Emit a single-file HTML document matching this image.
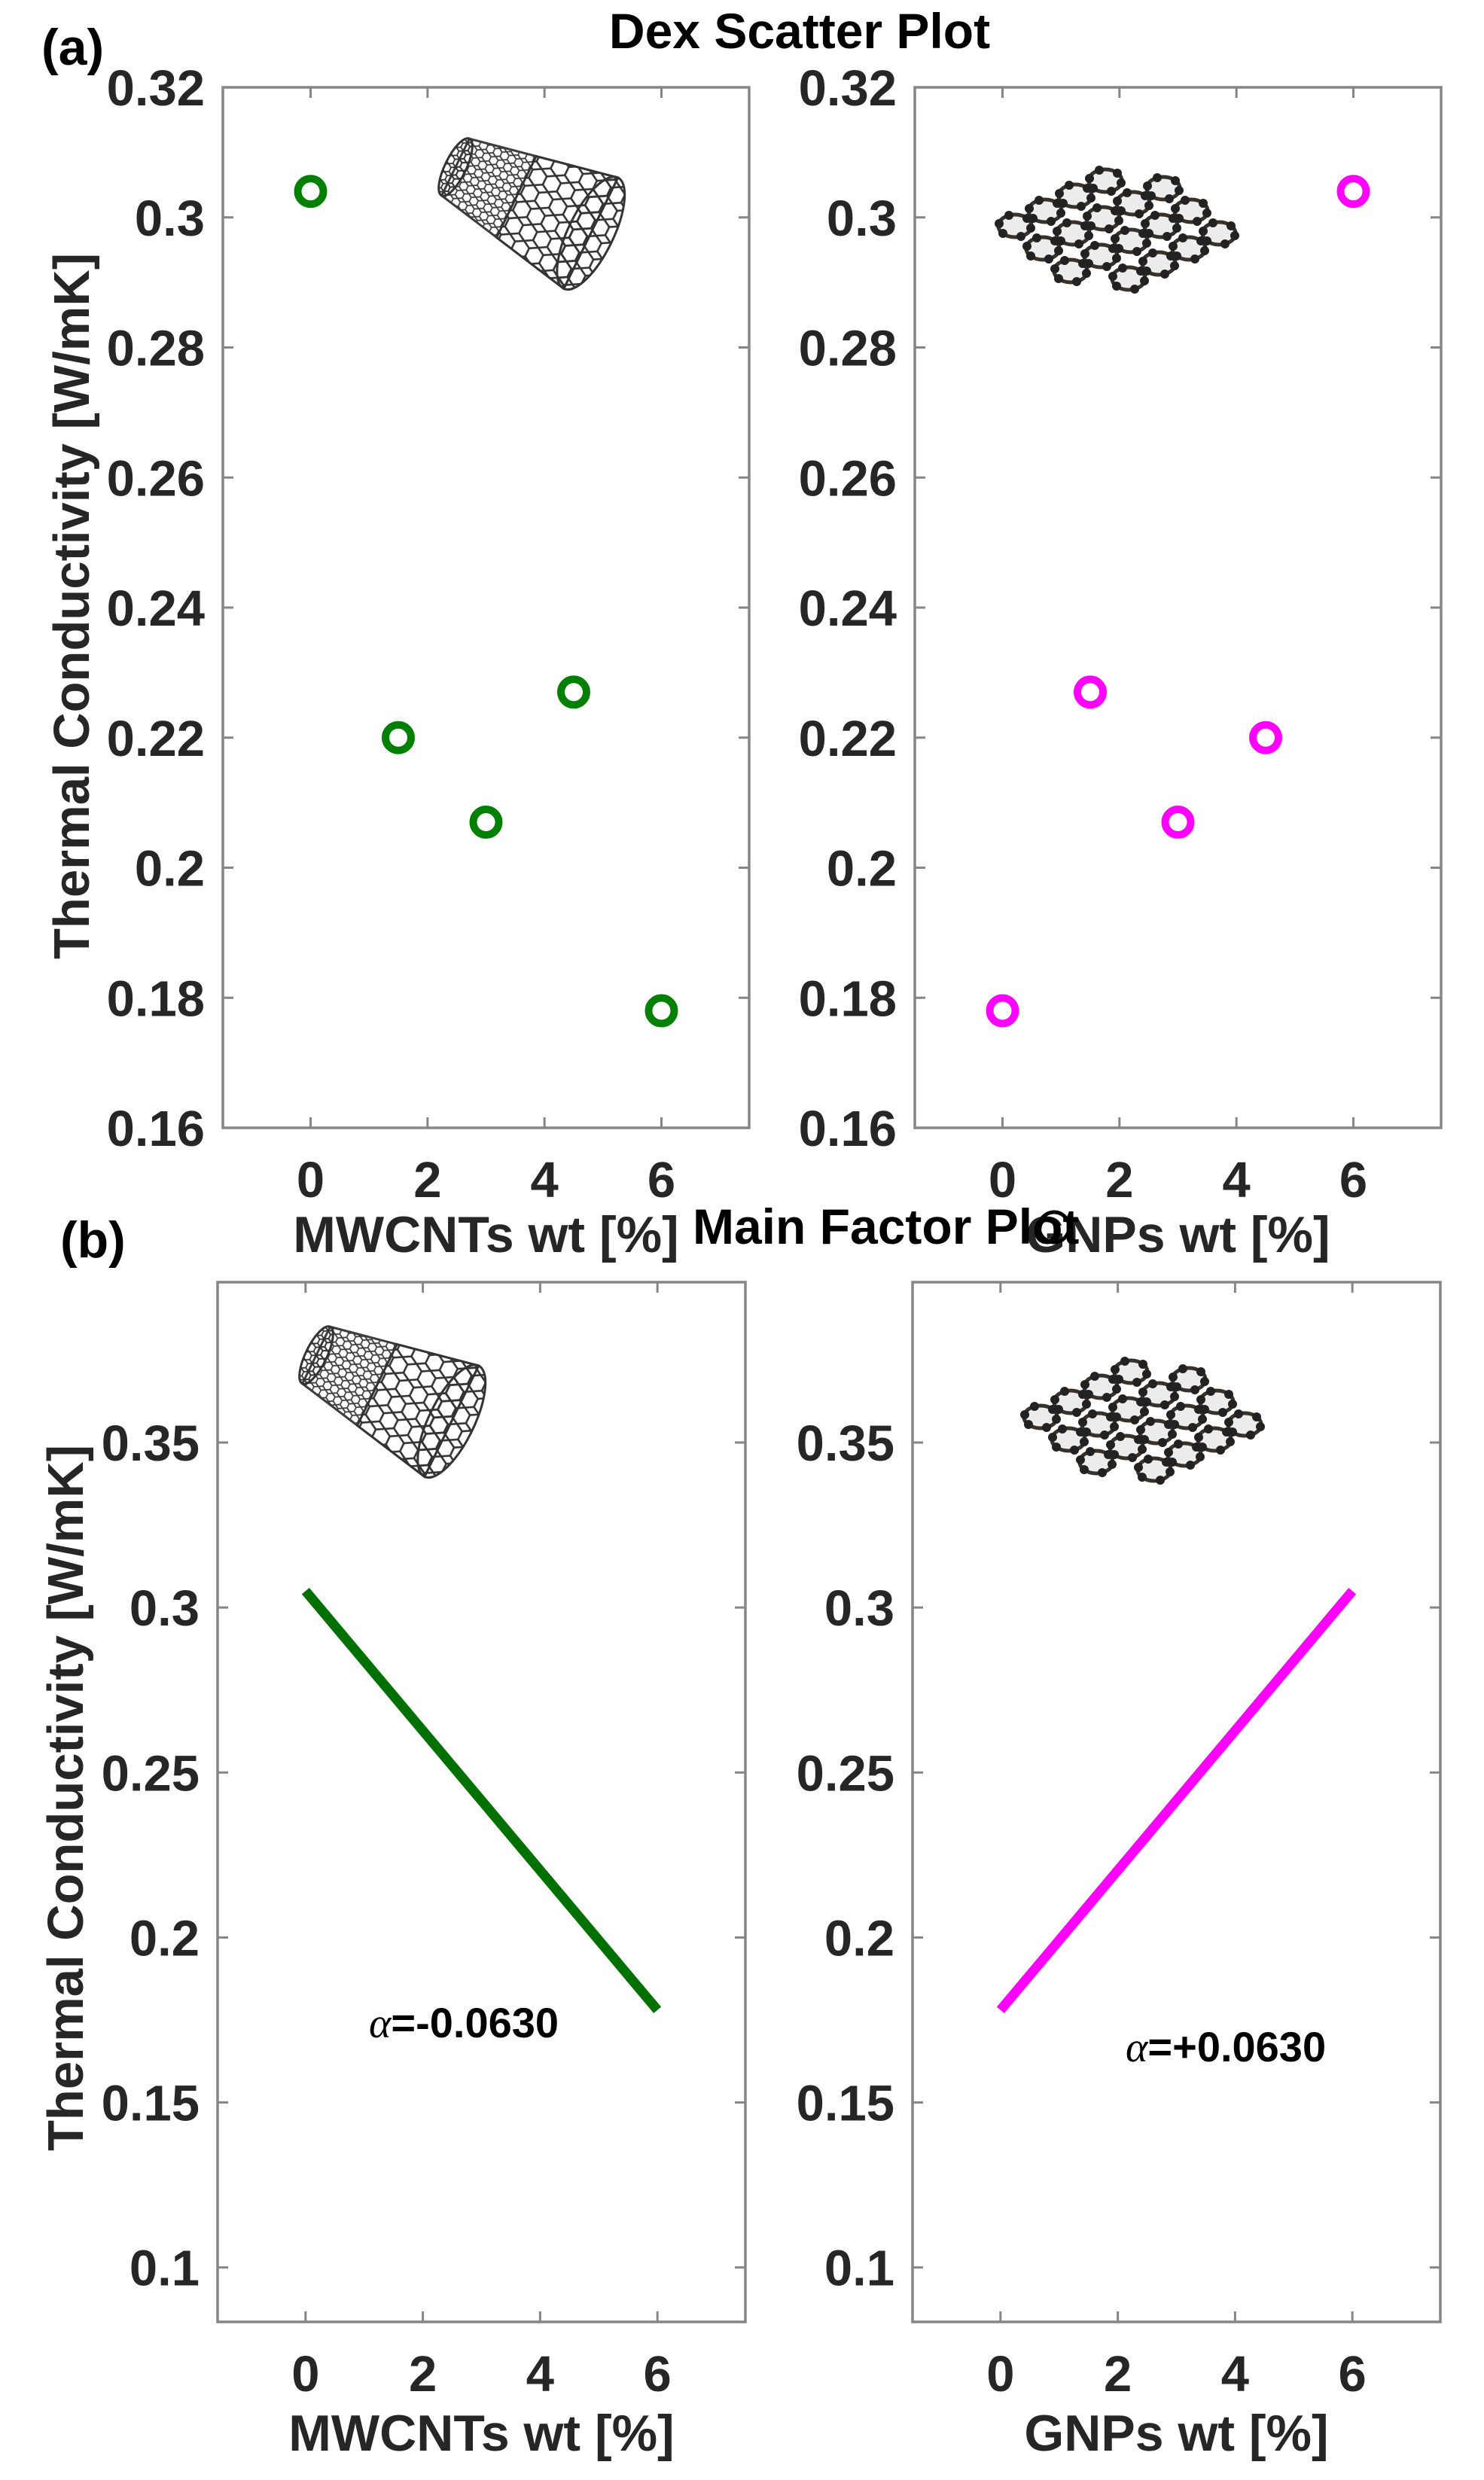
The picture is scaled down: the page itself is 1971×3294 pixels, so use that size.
<!DOCTYPE html>
<html><head><meta charset="utf-8">
<style>
html,body{margin:0;padding:0;background:#fff;}
svg{display:block;}
text{font-family:"Liberation Sans",Arial,sans-serif;font-weight:bold;}
</style></head>
<body>
<svg id="fig" xmlns="http://www.w3.org/2000/svg" width="1971" height="3294" viewBox="0 0 1971 3294">
<defs>
<pattern id="hexpat" patternUnits="userSpaceOnUse" width="24" height="41.6" patternTransform="rotate(90)">
<path d="M0,0 L6,10.4 L18,10.4 L24,0 M6,10.4 L0,20.8 L6,31.2 L18,31.2 L24,20.8 L18,10.4 M6,31.2 L0,41.6 M18,31.2 L24,41.6 M0,20.8 L-6,20.8 M24,20.8 L30,20.8" fill="none" stroke="#333" stroke-width="2.6"/>
</pattern>
<pattern id="hexpatfine" patternUnits="userSpaceOnUse" width="12" height="20.8" patternTransform="rotate(90)">
<path d="M0,0 L3,5.2 L9,5.2 L12,0 M3,5.2 L0,10.4 L3,15.6 L9,15.6 L12,10.4 L9,5.2 M3,15.6 L0,20.8 M9,15.6 L12,20.8" fill="none" stroke="#333" stroke-width="1.8"/>
</pattern>
</defs>
</svg>
<script>
// ---- data ----
const xTicks = [0, 2, 4, 6];
const xTickLabels = ["0", "2", "4", "6"];
const scatterX = [0, 1.5, 3, 4.5, 6];
const mwcntScatterY = [0.304, 0.220, 0.207, 0.227, 0.178];
const gnpScatterY = [0.178, 0.227, 0.207, 0.220, 0.304];
const scatterYTicks = [0.16, 0.18, 0.20, 0.22, 0.24, 0.26, 0.28, 0.30, 0.32];
const scatterYTickLabels = ["0.16", "0.18", "0.2", "0.22", "0.24", "0.26", "0.28", "0.3", "0.32"];
const mainX = [0, 6];
const mwcntMainY = [0.305, 0.178];
const gnpMainY = [0.178, 0.305];
const mainYTicks = [0.10, 0.15, 0.20, 0.25, 0.30, 0.35];
const mainYTickLabels = ["0.1", "0.15", "0.2", "0.25", "0.3", "0.35"];
const alphaLabels = ["=-0.0630", "=+0.0630"];

const NS = "http://www.w3.org/2000/svg";
const svg = document.getElementById("fig");
function el(tag, attrs, parent) {
  const e = document.createElementNS(NS, tag);
  for (const k in attrs) e.setAttribute(k, attrs[k]);
  (parent || svg).appendChild(e);
  return e;
}
function txt(str, attrs, parent) {
  const e = el("text", attrs, parent);
  e.textContent = str;
  return e;
}
function makeAxis(box, xr, yr) {
  return {
    sx: v => box.x0 + (v - xr[0]) / (xr[1] - xr[0]) * (box.x1 - box.x0),
    sy: v => box.y1 - (v - yr[0]) / (yr[1] - yr[0]) * (box.y1 - box.y0),
    box: box
  };
}
function drawFrame(ax, yTicks, yLabels, xlabel, name) {
  const b = ax.box;
  const g = el("g", {});
  
  
  const frame = el("rect", {x:b.x0, y:b.y0, width:b.x1-b.x0, height:b.y1-b.y0, fill:"none", stroke:"#868686", "stroke-width":3.5}, g);
  
  
  yTicks.forEach((v, i) => {
    const y = ax.sy(v);
    el("line", {x1:b.x0, x2:b.x0+14, y1:y, y2:y, stroke:"#868686", "stroke-width":3}, g);
    el("line", {x1:b.x1, x2:b.x1-14, y1:y, y2:y, stroke:"#868686", "stroke-width":3}, g);
    const t = txt(yLabels[i], {x:b.x0-24, y:y+24, "text-anchor":"end", "font-size":67, fill:"#262626"}, g);
    
    
  });
  xTicks.forEach((v, i) => {
    const x = ax.sx(v);
    el("line", {x1:x, x2:x, y1:b.y1, y2:b.y1-14, stroke:"#868686", "stroke-width":3}, g);
    el("line", {x1:x, x2:x, y1:b.y0, y2:b.y0+14, stroke:"#868686", "stroke-width":3}, g);
    const t = txt(xTickLabels[i], {x:x, y:b.y1+92, "text-anchor":"middle", "font-size":67, fill:"#262626"}, g);
    
    
  });
  const xl = txt(xlabel.text, {x:(b.x0+b.x1)/2, y:xlabel.y, "text-anchor":"middle", "font-size":68, fill:"#262626"}, g);
  
  
}

// nanotube illustration
function nanotube(x, y, name) {
  const g = el("g", {transform:"translate("+x+","+y+") rotate(26)"});
  
  
  const L = 200;
  el("path", {d:"M0,-42 L"+L+",-82 L"+L+",82 L0,42 Z", fill:"url(#hexpatfine)", stroke:"#333", "stroke-width":3, opacity:0.95}, g);
  el("path", {d:"M"+(L*0.45)+",-60 L"+L+",-82 L"+L+",82 L"+(L*0.45)+",60 Z", fill:"#fff"}, g);
  el("path", {d:"M"+(L*0.45)+",-60 L"+L+",-82 L"+L+",82 L"+(L*0.45)+",60 Z", fill:"url(#hexpat)", stroke:"#333", "stroke-width":3}, g);
  el("ellipse", {cx:0, cy:0, rx:14, ry:42, fill:"url(#hexpatfine)", stroke:"#333", "stroke-width":3}, g);
  el("ellipse", {cx:L, cy:0, rx:30, ry:82, fill:"url(#hexpat)", stroke:"#333", "stroke-width":3}, g);
}
// graphene illustration
function graphene(x, y, s, name) {
  const g = el("g", {transform:"translate("+x+","+y+") scale("+s+")"});
  
  
  const cells = [];
  for (let i = 0; i < 5; i++) for (let j = 0; j < 4; j++) {
    if ((i === 0 && j === 3) || (i === 4 && j === 0)) continue;
    cells.push([i*40 + j*37, -i*20 + j*30 + 100]);
  }
  cells.forEach(c => el("ellipse", {cx:c[0]+30, cy:c[1], rx:22, ry:15, fill:"#ececec", stroke:"#3a3128", "stroke-width":5}, g));
  cells.forEach(c => {
    [[-21,-3],[21,3],[-8,-14],[8,14],[-16,10],[16,-10]].forEach(d => {
      el("circle", {cx:c[0]+30+d[0], cy:c[1]+d[1], r:6, fill:"#222"}, g);
    });
  });
}

// ---- titles ----
let t;
t = txt("(a)", {x:55, y:86, "font-size":68, fill:"#000"});  
t = txt("Dex Scatter Plot", {x:1062, y:64, "text-anchor":"middle", "font-size":66, fill:"#000"});  
t = txt("(b)", {x:80, y:1670, "font-size":68, fill:"#000"});  

// ---- top panels ----
const axTL = makeAxis({x0:296, x1:995, y0:116, y1:1498}, [-1.5, 7.5], [0.16, 0.32]);
const axTR = makeAxis({x0:1215, x1:1914, y0:116, y1:1498}, [-1.5, 7.5], [0.16, 0.32]);
drawFrame(axTL, scatterYTicks, scatterYTickLabels, {text:"MWCNTs wt [%]", y:1663}, "scatter-mwcnt");
drawFrame(axTR, scatterYTicks, scatterYTickLabels, {text:"GNPs wt [%]", y:1663}, "scatter-gnp");
nanotube(605, 222, "nanotube-image-top");
graphene(1318, 200, 1.0, "graphene-image-top");
scatterX.forEach((xv, i) => {
  const c = el("circle", {cx:axTL.sx(xv), cy:axTL.sy(mwcntScatterY[i]), r:17, fill:"none", stroke:"#008000", "stroke-width":10});
  
  
  const d = el("circle", {cx:axTR.sx(xv), cy:axTR.sy(gnpScatterY[i]), r:17, fill:"none", stroke:"#ff00ff", "stroke-width":10});
  
  
});
t = txt("Thermal Conductivity [W/mK]", {x:0, y:0, transform:"translate(118,805) rotate(-90)", "text-anchor":"middle", "font-size":67, fill:"#262626"});
 

// ---- bottom panels ----
const axBL = makeAxis({x0:289, x1:990, y0:1703, y1:3084}, [-1.5, 7.5], [0.0835, 0.3986]);
const axBR = makeAxis({x0:1212, x1:1913, y0:1703, y1:3084}, [-1.5, 7.5], [0.0835, 0.3986]);
drawFrame(axBL, mainYTicks, mainYTickLabels, {text:"MWCNTs wt [%]", y:3255}, "main-mwcnt");
drawFrame(axBR, mainYTicks, mainYTickLabels, {text:"GNPs wt [%]", y:3255}, "main-gnp");
nanotube(420, 1800, "nanotube-image-bottom");
graphene(1352, 1782, 1.0, "graphene-image-bottom");
let ln = el("line", {x1:axBL.sx(mainX[0]), y1:axBL.sy(mwcntMainY[0]), x2:axBL.sx(mainX[1]), y2:axBL.sy(mwcntMainY[1]), stroke:"#007000", "stroke-width":13});
 
ln = el("line", {x1:axBR.sx(mainX[0]), y1:axBR.sy(gnpMainY[0]), x2:axBR.sx(mainX[1]), y2:axBR.sy(gnpMainY[1]), stroke:"#ff00ff", "stroke-width":13});
 

t = txt("", {x:490, y:2706, "font-size":56, fill:"#000"});
const a1 = el("tspan", {"font-family":"Liberation Serif, serif", "font-style":"italic", "font-weight":"normal"}, t); a1.textContent = "α";
const b1 = el("tspan", {}, t); b1.textContent = alphaLabels[0];
 
t = txt("", {x:1495, y:2738, "font-size":56, fill:"#000"});
const a2 = el("tspan", {"font-family":"Liberation Serif, serif", "font-style":"italic", "font-weight":"normal"}, t); a2.textContent = "α";
const b2 = el("tspan", {}, t); b2.textContent = alphaLabels[1];
 

t = txt("Thermal Conductivity [W/mK]", {x:0, y:0, transform:"translate(110,2388) rotate(-90)", "text-anchor":"middle", "font-size":67, fill:"#262626"});
 

// overlapping title drawn last (as in reference)
t = txt("Main Factor Plot", {x:920, y:1652, "font-size":66, fill:"#000"});  
const ring = el("circle", {cx:1400, cy:1630, r:20, fill:"none", stroke:"#000", "stroke-width":5});
 
</script>
</body></html>
